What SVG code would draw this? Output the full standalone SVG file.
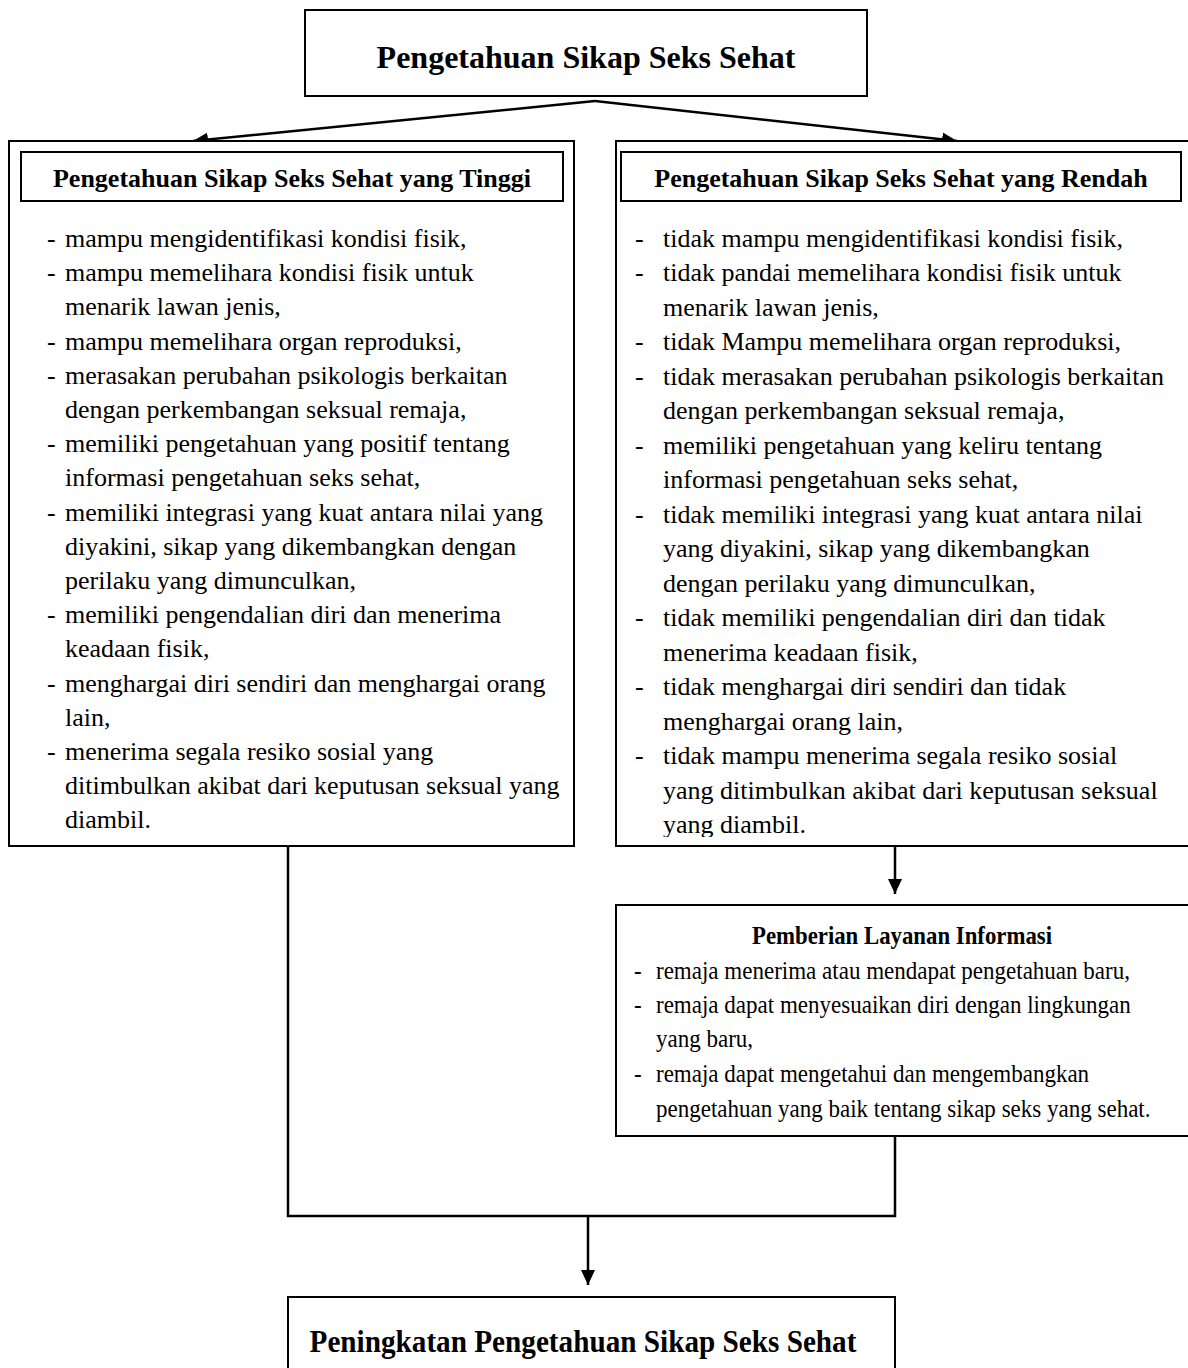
<svg xmlns="http://www.w3.org/2000/svg" width="1188" height="1368" viewBox="0 0 1188 1368">
<style>
.box{fill:#fff;stroke:#000;stroke-width:2}
.t{font-family:"Liberation Serif","Times New Roman",serif;fill:#000}
.title{font-size:32px;font-weight:bold}
.hdr{font-size:26px;font-weight:bold}
.body{font-size:26px}
.lay{font-size:26px}
.layh{font-size:26px;font-weight:bold}
.btm{font-size:32px;font-weight:bold}
.conn{fill:none;stroke:#000;stroke-width:2.5}
</style>
<defs>
<marker id="ah" markerUnits="userSpaceOnUse" markerWidth="16" markerHeight="14" refX="15" refY="7" orient="auto">
<path d="M0,0 L15,7 L0,14 z" fill="#000"/>
</marker>
<clipPath id="rclip"><rect x="616" y="141" width="580" height="696"/></clipPath>
</defs>
<rect width="1188" height="1368" fill="#fff"/>

<g id="connectors">
<line class="conn" x1="595" y1="101" x2="193" y2="141" marker-end="url(#ah)"/>
<line class="conn" x1="595" y1="101" x2="957" y2="141" marker-end="url(#ah)"/>
<line class="conn" x1="895" y1="846" x2="895" y2="894" marker-end="url(#ah)"/>
<polyline class="conn" points="288,846 288,1216 895,1216 895,1136"/>
<line class="conn" x1="588" y1="1216" x2="588" y2="1285" marker-end="url(#ah)"/>
</g>

<g id="node-top">
<rect class="box" x="305" y="10" width="562" height="86"/>
<text class="t title" x="586" y="68" text-anchor="middle">Pengetahuan Sikap Seks Sehat</text>
</g>

<g id="node-tinggi">
<rect class="box" x="9" y="141" width="565" height="705"/>
<rect class="box" x="21" y="152" width="542" height="49"/>
<text class="t hdr" x="292" y="187" text-anchor="middle">Pengetahuan Sikap Seks Sehat yang Tinggi</text>
<g class="t body">
<text x="47" y="247">-</text><text x="65" y="247">mampu mengidentifikasi kondisi fisik,</text>
<text x="47" y="281">-</text><text x="65" y="281">mampu memelihara kondisi fisik untuk</text>
<text x="65" y="315">menarik lawan jenis,</text>
<text x="47" y="350">-</text><text x="65" y="350">mampu memelihara organ reproduksi,</text>
<text x="47" y="384">-</text><text x="65" y="384">merasakan perubahan psikologis berkaitan</text>
<text x="65" y="418">dengan perkembangan seksual remaja,</text>
<text x="47" y="452">-</text><text x="65" y="452">memiliki pengetahuan yang positif tentang</text>
<text x="65" y="486">informasi pengetahuan seks sehat,</text>
<text x="47" y="521">-</text><text x="65" y="521">memiliki integrasi yang kuat antara nilai yang</text>
<text x="65" y="555">diyakini, sikap yang dikembangkan dengan</text>
<text x="65" y="589">perilaku yang dimunculkan,</text>
<text x="47" y="623">-</text><text x="65" y="623">memiliki pengendalian diri dan menerima</text>
<text x="65" y="657">keadaan fisik,</text>
<text x="47" y="692">-</text><text x="65" y="692">menghargai diri sendiri dan menghargai orang</text>
<text x="65" y="726">lain,</text>
<text x="47" y="760">-</text><text x="65" y="760">menerima segala resiko sosial yang</text>
<text x="65" y="794">ditimbulkan akibat dari keputusan seksual yang</text>
<text x="65" y="828">diambil.</text>
</g>
</g>

<g id="node-rendah">
<rect class="box" x="616" y="141" width="580" height="705"/>
<rect class="box" x="621" y="152" width="560" height="49"/>
<text class="t hdr" x="901" y="187" text-anchor="middle">Pengetahuan Sikap Seks Sehat yang Rendah</text>
<g class="t body" clip-path="url(#rclip)">
<text x="635" y="247">-</text><text x="663" y="247">tidak mampu mengidentifikasi kondisi fisik,</text>
<text x="635" y="281">-</text><text x="663" y="281">tidak pandai memelihara kondisi fisik untuk</text>
<text x="663" y="316">menarik lawan jenis,</text>
<text x="635" y="350">-</text><text x="663" y="350">tidak Mampu memelihara organ reproduksi,</text>
<text x="635" y="385">-</text><text x="663" y="385">tidak merasakan perubahan psikologis berkaitan</text>
<text x="663" y="419">dengan perkembangan seksual remaja,</text>
<text x="635" y="454">-</text><text x="663" y="454">memiliki pengetahuan yang keliru tentang</text>
<text x="663" y="488">informasi pengetahuan seks sehat,</text>
<text x="635" y="523">-</text><text x="663" y="523">tidak memiliki integrasi yang kuat antara nilai</text>
<text x="663" y="557">yang diyakini, sikap yang dikembangkan</text>
<text x="663" y="592">dengan perilaku yang dimunculkan,</text>
<text x="635" y="626">-</text><text x="663" y="626">tidak memiliki pengendalian diri dan tidak</text>
<text x="663" y="661">menerima keadaan fisik,</text>
<text x="635" y="695">-</text><text x="663" y="695">tidak menghargai diri sendiri dan tidak</text>
<text x="663" y="730">menghargai orang lain,</text>
<text x="635" y="764">-</text><text x="663" y="764">tidak mampu menerima segala resiko sosial</text>
<text x="663" y="799">yang ditimbulkan akibat dari keputusan seksual</text>
<text x="663" y="833">yang diambil.</text>
</g>
</g>

<g id="node-layanan">
<rect class="box" x="616" y="905" width="580" height="231"/>
<text class="t layh" transform="translate(902,944) scale(0.877,1)" text-anchor="middle">Pemberian Layanan Informasi</text>
<g class="t lay">
<text transform="translate(634,979) scale(0.885,1)">-</text><text transform="translate(656,979) scale(0.885,1)">remaja menerima atau mendapat pengetahuan baru,</text>
<text transform="translate(634,1013) scale(0.885,1)">-</text><text transform="translate(656,1013) scale(0.885,1)">remaja dapat menyesuaikan diri dengan lingkungan</text>
<text transform="translate(656,1047) scale(0.885,1)">yang baru,</text>
<text transform="translate(634,1082) scale(0.885,1)">-</text><text transform="translate(656,1082) scale(0.885,1)">remaja dapat mengetahui dan mengembangkan</text>
<text transform="translate(656,1117) scale(0.885,1)">pengetahuan yang baik tentang sikap seks yang sehat.</text>
</g>
</g>

<g id="node-peningkatan">
<rect class="box" x="288" y="1297" width="607" height="90"/>
<text class="t btm" transform="translate(583,1352) scale(0.913,1)" text-anchor="middle">Peningkatan Pengetahuan Sikap Seks Sehat</text>
</g>
</svg>
